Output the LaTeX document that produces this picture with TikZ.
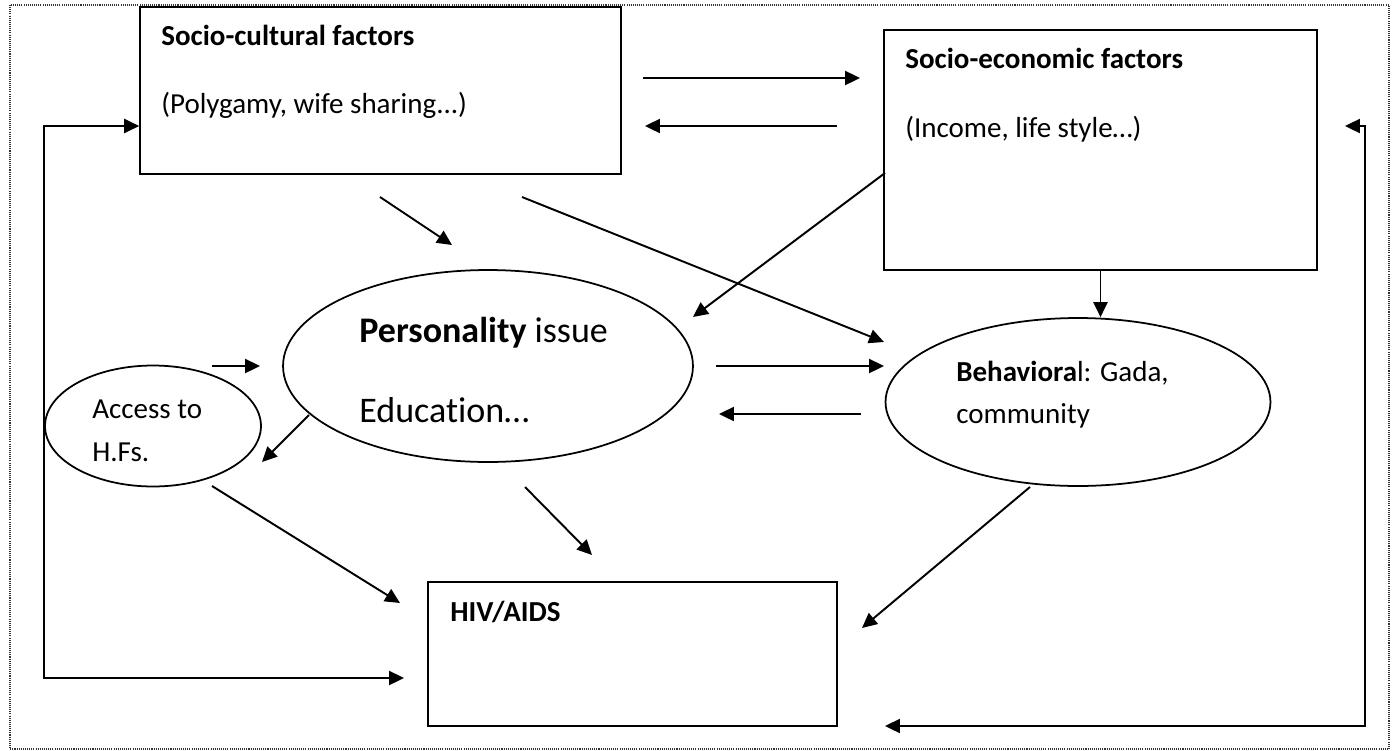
\documentclass[tikz,border=0pt]{standalone}
\usepackage{fontspec}
\setmainfont{Carlito}[Ligatures=NoCommon]
\usetikzlibrary{shapes.geometric,arrows.meta,positioning,calc}

\begin{document}
\begin{tikzpicture}[x=0.02cm,y=-0.02cm,
	box/.style={draw,line width=1pt,inner sep=0pt},
	oval/.style={draw,ellipse,line width=1pt,inner sep=0pt},
	arr/.style={line width=1.1pt,-{Triangle[length=8.5pt,width=8pt]}},
	arrs/.style={line width=1.1pt,{Triangle[length=8.5pt,width=8pt]}-{Triangle[length=8.5pt,width=8pt]}},
	lbl/.style={anchor=base west,inner sep=0pt,font=\fontsize{16.5}{20}\selectfont},
	big/.style={anchor=base west,inner sep=0pt,font=\fontsize{20.5}{24}\selectfont}]
\useasboundingbox (0,0) rectangle (1394,751);
\draw[line width=0.8pt,dash pattern=on 0.6pt off 0.6pt,black!80] (10,5) rectangle (1389,749);

% boxes and ovals
\node[box,minimum width=9.62cm,minimum height=3.34cm] (sc) at (380.5,90.5) {};
\node[box,minimum width=8.66cm,minimum height=4.8cm] (se) at (1100.5,150) {};
\node[box,minimum width=8.18cm,minimum height=2.88cm] (hiv) at (632.5,654) {};
\node[oval,minimum width=8.2cm,minimum height=3.84cm] (pers) at (488,366) {};
\node[oval,minimum width=4.32cm,minimum height=2.42cm] (acc) at (153,426) {};
\node[oval,minimum width=7.7cm,minimum height=3.36cm] (beh) at (1078,402) {};

% texts
\node[lbl] (sc-t) at (161,45) {\textbf{Socio-cultural factors}};
\node[lbl] (sc-s) at (161,113) {(Polygamy, wife sharing...)};
\node[lbl] (se-t) at (905,68) {\textbf{Socio-economic factors}};
\node[lbl] (se-s) at (905,137) {(Income, life style…)};
\node[big] (pers-t) at (359,342) {\textbf{Personality} issue};
\node[big] (pers-s) at (359,422) {Education…};
\node[lbl] (acc-t) at (92,418) {Access to};
\node[lbl] (acc-s) at (92,461) {H.Fs.};
\node[lbl] (beh-t) at (956,381) {\textbf{Behaviora}l: Gada,};
\node[lbl] (beh-s) at (956,423) {community};
\node[lbl] (hiv-t) at (450,621) {\textbf{HIV/AIDS}};

% free ends of the connectors
\coordinate (a1) at (643,78);   \coordinate (b1) at (860,78);
\coordinate (a2) at (837,126);  \coordinate (b2) at (645,126);
\coordinate (a3) at (380,197);  \coordinate (b3) at (452,245);
\coordinate (a4) at (522,197);  \coordinate (b4) at (884,342);
\coordinate (a5) at (885,173);  \coordinate (b5) at (693,317);
\coordinate (a7) at (212,366);  \coordinate (b7) at (260,366);
\coordinate (a8) at (716,366);  \coordinate (b8) at (884,366);
\coordinate (a9) at (861,414);  \coordinate (b9) at (719,414);
\coordinate (a10) at (309,415); \coordinate (b10) at (262,462);
\coordinate (a11) at (212,486); \coordinate (b11) at (400,603);
\coordinate (a12) at (525,487); \coordinate (b12) at (592,555);
\coordinate (a13) at (1030,487); \coordinate (b13) at (862,628);
\coordinate (lp) at (44,126);   \coordinate (lq) at (44,678);
\coordinate (hin) at (404,678);
\coordinate (rtip) at (1345,126); \coordinate (rp) at (1365,126);
\coordinate (rq) at (1365,726);  \coordinate (rin) at (885,726);

% connectors
\draw[arr] (a1) -- (b1);
\draw[arr] (a2) -- (b2);
\draw[arr] (a3) -- (b3);
\draw[arr] (a4) -- (b4);
\draw[arr] (a5) -- (b5);
\draw[arr] (se.south) -- (se.south |- beh.north);
\draw[arr] (a7) -- (b7);
\draw[arr] (a8) -- (b8);
\draw[arr] (a9) -- (b9);
\draw[arr] (a10) -- (b10);
\draw[arr] (a11) -- (b11);
\draw[arr] (a12) -- (b12);
\draw[arr] (a13) -- (b13);
\draw[arrs] (hin) -- (lq) -- (lp) -- (sc.west |- lp);
\draw[arrs] (rtip) -- (rp) -- (rq) -- (rin);
\end{tikzpicture}
\end{document}
